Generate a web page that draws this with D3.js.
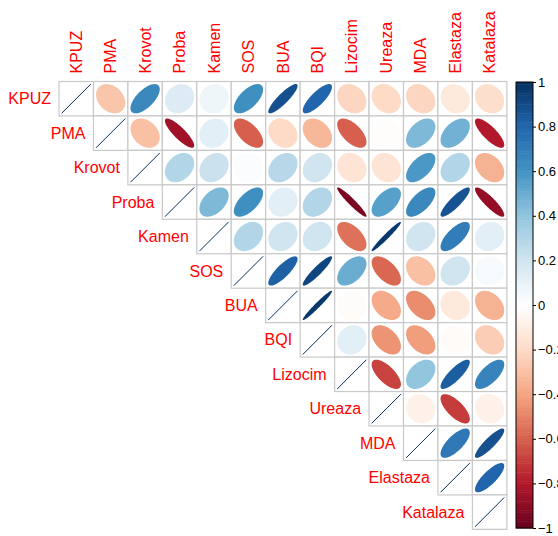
<!DOCTYPE html>
<html>
<head>
<meta charset="utf-8">
<script src="https://cdn.jsdelivr.net/npm/d3@7"></script>
<style>
body { margin: 0; background: #fff; }
svg { display: block; font-family: "Liberation Sans", Arial, sans-serif; }
</style>
</head>
<body>
<div class="container"></div>
<script>
var vars = ["KPUZ","PMA","Krovot","Proba","Kamen","SOS","BUA","BQI","Lizocim","Ureaza","MDA","Elastaza","Katalaza"];

// upper triangle, each row starts right after the diagonal
var rowKPUZ   = [-0.28, 0.65, 0.15, 0.07, 0.62, 0.88, 0.80, -0.22, -0.20, -0.22, -0.12, -0.18];
var rowPMA    = [-0.30, -0.85, 0.12, -0.60, -0.20, -0.33, -0.60, -0.01, 0.45, 0.48, -0.80];
var rowKrovot = [0.30, 0.22, 0.02, 0.28, 0.20, -0.15, -0.15, 0.58, 0.30, -0.35];
var rowProba  = [0.45, 0.62, 0.12, 0.30, -0.95, 0.55, 0.65, 0.87, -0.88];
var rowKamen  = [0.30, 0.20, 0.20, -0.55, 0.97, 0.20, 0.70, 0.12];
var rowSOS    = [0.82, 0.92, 0.50, -0.58, -0.30, 0.20, 0.04];
var rowBUA    = [0.97, -0.02, -0.38, -0.47, -0.12, -0.35];
var rowBQI    = [0.12, -0.45, -0.42, -0.02, -0.25];
var rowLizocim = [-0.68, 0.40, 0.83, 0.67];
var rowUreaza = [-0.08, -0.70, -0.08];
var rowMDA    = [0.72, 0.88];
var rowElastaza = [0.80];

var legendTicks = [1, 0.8, 0.6, 0.4, 0.2, 0, -0.2, -0.4, -0.6, -0.8, -1];
var palette = ["#67001F","#B2182B","#D6604D","#F4A582","#FDDBC7","#FFFFFF","#D1E5F0","#92C5DE","#4393C3","#2166AC","#053061"];

var W = 558, H = 536;
var X0 = 59, Y0 = 81.5, CELL = 34.45;
var n = vars.length;

var rows = [rowKPUZ,rowPMA,rowKrovot,rowProba,rowKamen,rowSOS,rowBUA,rowBQI,rowLizocim,rowUreaza,rowMDA,rowElastaza,[]];
var cells = [];
rows.forEach(function(r, i){
	cells.push({i: i, j: i, v: 1});
	r.forEach(function(v, k){
		cells.push({i: i, j: i + k + 1, v: v});
	});
});

var color = d3.scaleLinear()
	.domain(d3.range(11).map(function(k){ return -1 + k * 0.2; }))
	.range(palette)
	.interpolate(d3.interpolateRgb);

var x = d3.scaleBand().domain(d3.range(n)).range([X0, X0 + n * CELL]);
var y = d3.scaleBand().domain(d3.range(n)).range([Y0, Y0 + n * CELL]);

var svg = d3.select(".container").append("svg").attr("width", W).attr("height", H);

// ellipse outline like corrplot
var ellPath = function(rho){
	var d = Math.acos(Math.max(-1, Math.min(1, rho)));
	var pts = d3.range(100).map(function(t){
		var k = t / 99 * 2 * Math.PI;
		return [Math.cos(k + d / 2) / 2 * 0.85 * CELL, -Math.cos(k - d / 2) / 2 * 0.85 * CELL];
	});
	return d3.line()(pts) + "Z";
};

var g = svg.append("g");

g.selectAll("rect.cell").data(cells).enter().append("rect")
	.attr("class", "cell")
	.attr("x", function(d){ return x(d.j); })
	.attr("y", function(d){ return y(d.i); })
	.attr("width", CELL).attr("height", CELL)
	.attr("fill", "#fff")
	.attr("stroke", "#c8c8c8")
	.attr("stroke-width", 1.2);

g.selectAll("path.ell").data(cells.filter(function(d){ return d.i != d.j; })).enter().append("path")
	.attr("class", "ell")
	.attr("transform", function(d){ return "translate(" + (x(d.j) + CELL / 2) + "," + (y(d.i) + CELL / 2) + ")"; })
	.attr("d", function(d){ return ellPath(d.v); })
	.attr("fill", function(d){ return color(d.v); })
	.attr("stroke", "none");

g.selectAll("line.diag").data(cells.filter(function(d){ return d.i == d.j; })).enter().append("line")
	.attr("class", "diag")
	.attr("x1", function(d){ return x(d.j) + CELL * 0.075; })
	.attr("y1", function(d){ return y(d.i) + CELL * 0.925; })
	.attr("x2", function(d){ return x(d.j) + CELL * 0.925; })
	.attr("y2", function(d){ return y(d.i) + CELL * 0.075; })
	.attr("stroke", color(1))
	.attr("stroke-width", 1);

// row labels
svg.selectAll("text.rowlab").data(vars).enter().append("text")
	.attr("class", "rowlab")
	.attr("x", function(d, i){ return x(i) - 8; })
	.attr("y", function(d, i){ return y(i) + CELL / 2; })
	.attr("dy", "0.35em")
	.attr("text-anchor", "end")
	.attr("fill", "#FF0000")
	.attr("font-size", 16)
	.text(function(d){ return d; });

// column labels
svg.selectAll("text.collab").data(vars).enter().append("text")
	.attr("class", "collab")
	.attr("transform", function(d, i){ return "translate(" + (x(i) + CELL / 2) + "," + (Y0 - 8) + ") rotate(-90)"; })
	.attr("dy", "0.35em")
	.attr("text-anchor", "start")
	.attr("fill", "#FF0000")
	.attr("font-size", 16)
	.text(function(d){ return d; });

// colour legend
var LX = 516, LW = 17, LY0 = 82, LY1 = 528;
var ly = d3.scaleLinear().domain([-1, 1]).range([LY1, LY0]);
var steps = d3.range(200).map(function(k){ return -1 + (k + 0.5) / 100; });
var lg = svg.append("g");
lg.selectAll("rect").data(steps).enter().append("rect")
	.attr("x", LX)
	.attr("y", function(d){ return ly(d + 0.005); })
	.attr("width", LW)
	.attr("height", (LY1 - LY0) / 200 + 0.5)
	.attr("fill", function(d){ return color(d); });
lg.append("rect")
	.attr("x", LX).attr("y", LY0).attr("width", LW).attr("height", LY1 - LY0)
	.attr("fill", "none").attr("stroke", "#000").attr("stroke-width", 1);

var axis = d3.axisRight(ly).tickValues(legendTicks).tickSize(3).tickFormat(function(d){ return d3.format("")(+d.toFixed(1)); });
var ax = svg.append("g").attr("transform", "translate(" + (LX + LW) + ",0)").call(axis);
ax.select(".domain").remove();
ax.selectAll("text").attr("font-size", 13).attr("font-family", "Liberation Sans, Arial, sans-serif").attr("x", 5).attr("fill", "#000");
</script>
</body>
</html>
